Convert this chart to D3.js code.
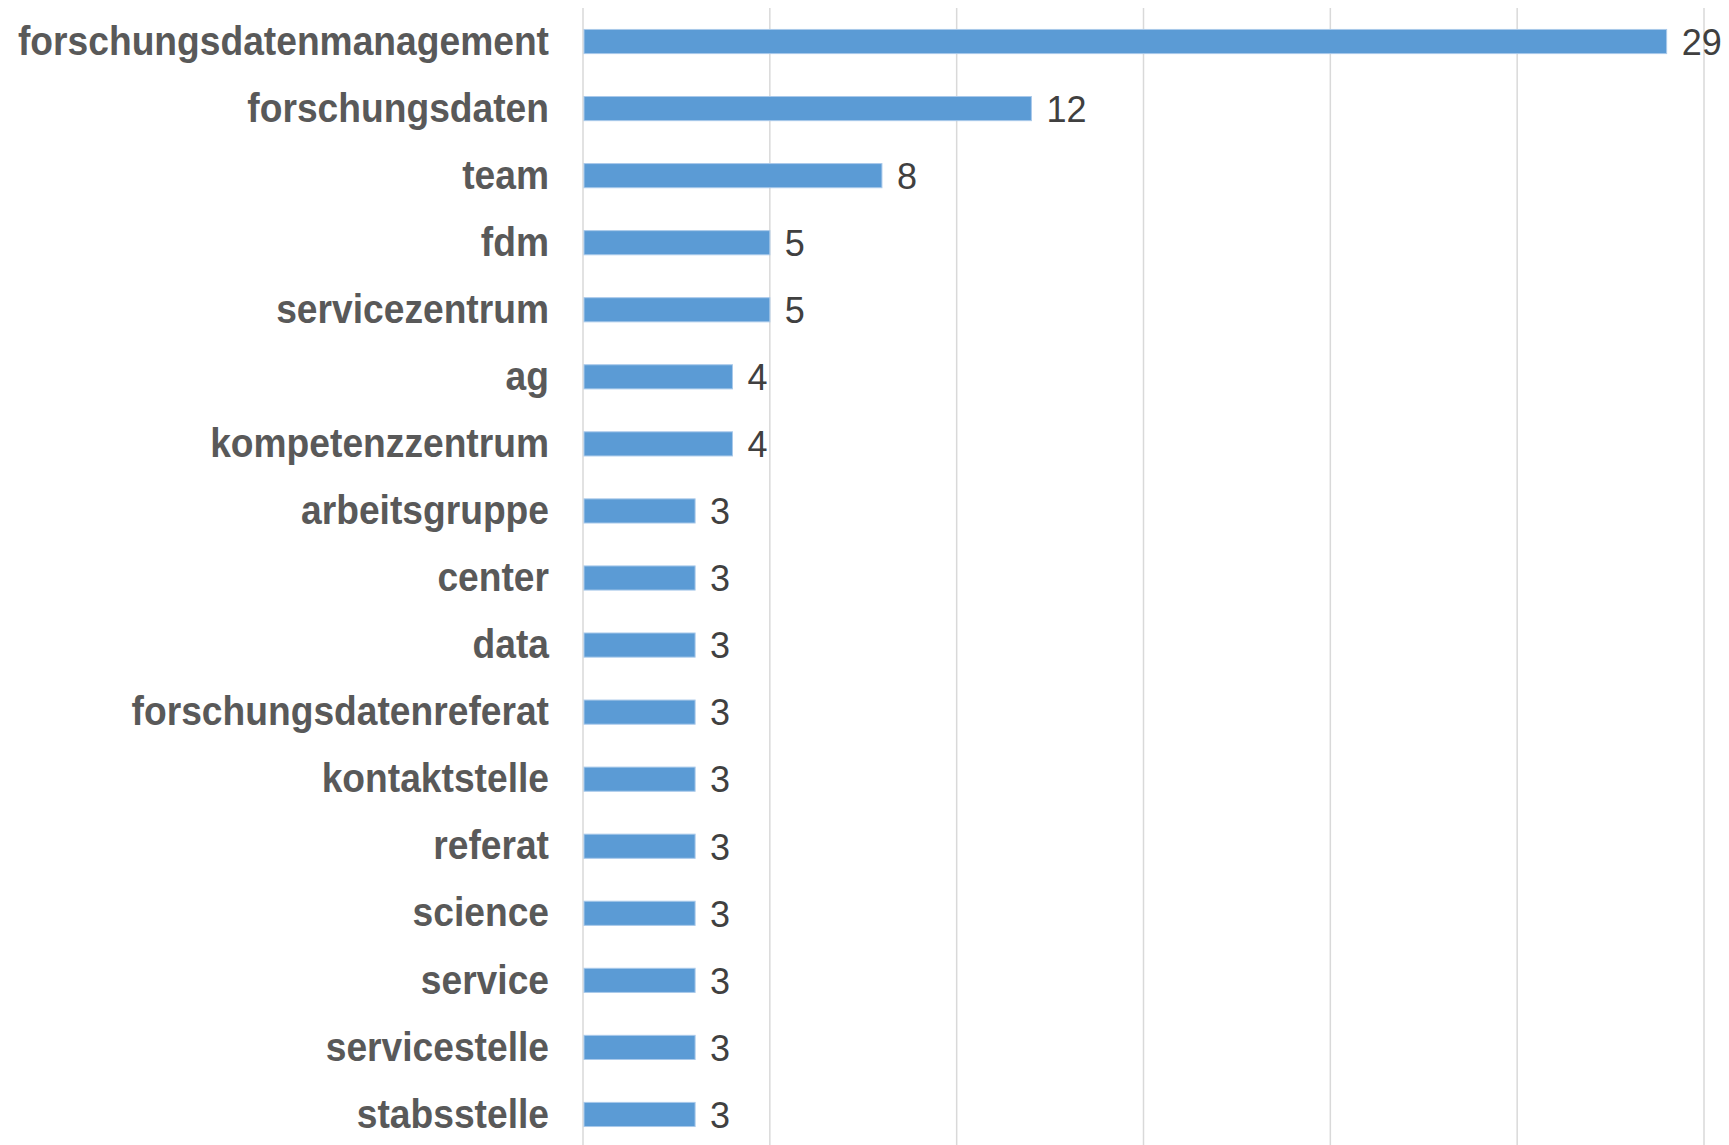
<!DOCTYPE html>
<html>
<head>
<meta charset="utf-8">
<script src="https://cdn.jsdelivr.net/npm/d3@7"></script>
<style>
  html, body { margin: 0; padding: 0; background: #fff; }
  svg { display: block; }
</style>
</head>
<body>
<svg id="chart" width="1729" height="1145"></svg>
<script>
// Term frequencies, horizontal bar chart

const categories = [
  'forschungsdatenmanagement', 'forschungsdaten', 'team', 'fdm', 'servicezentrum',
  'ag', 'kompetenzzentrum', 'arbeitsgruppe', 'center', 'data',
  'forschungsdatenreferat', 'kontaktstelle', 'referat', 'science', 'service',
  'servicestelle', 'stabsstelle'
];
const counts = [29, 12, 8, 5, 5, 4, 4, 3, 3, 3, 3, 3, 3, 3, 3, 3, 3];
const xTicks = [0, 5, 10, 15, 20, 25, 30];

const width = 1729;
const height = 1145;
const margin = { top: 8, right: 25, bottom: -3, left: 583 };

const svg = d3.select('#chart');

const x = d3.scaleLinear()
  .domain([0, 30])
  .range([margin.left, width - margin.right]);

const y = d3.scaleBand()
  .domain(categories)
  .range([margin.top, height - margin.bottom])
  .paddingInner(0.64)
  .paddingOuter(0.32);

// vertical gridlines
svg.append('g')
  .attr('class', 'grid')
  .selectAll('line')
  .data(xTicks)
  .join('line')
  .attr('x1', d => x(d))
  .attr('x2', d => x(d))
  .attr('y1', margin.top)
  .attr('y2', height)
  .attr('stroke', '#d9d9d9')
  .attr('stroke-width', 1.5);

// bars
svg.append('g')
  .selectAll('rect')
  .data(categories)
  .join('rect')
  .attr('x', x(0) + 1)
  .attr('y', d => y(d))
  .attr('width', (d, i) => x(counts[i]) - x(0) - 1)
  .attr('height', y.bandwidth())
  .attr('fill', '#5b9bd5')
  .attr('stroke', '#a9c9ea')
  .attr('stroke-width', 1);

// value labels
svg.append('g')
  .selectAll('text')
  .data(categories)
  .join('text')
  .attr('x', (d, i) => x(counts[i]) + 15)
  .attr('y', d => y(d) + y.bandwidth() / 2)
  .attr('dy', '0.37em')
  .attr('font-family', 'Liberation Sans, Arial, sans-serif')
  .attr('font-size', 36)
  .attr('fill', '#404040')
  .text((d, i) => counts[i]);

// category labels
const labelX = 549;
svg.append('g')
  .attr('transform', `translate(${labelX},0) scale(0.93,1)`)
  .selectAll('text')
  .data(categories)
  .join('text')
  .attr('x', 0)
  .attr('y', d => y(d) + y.bandwidth() / 2)
  .attr('dy', '0.33em')
  .attr('text-anchor', 'end')
  .attr('font-family', 'Liberation Sans, Arial, sans-serif')
  .attr('font-weight', 'bold')
  .attr('font-size', 40)
  .attr('fill', '#595959')
  .text(d => d);
</script>
</body>
</html>
